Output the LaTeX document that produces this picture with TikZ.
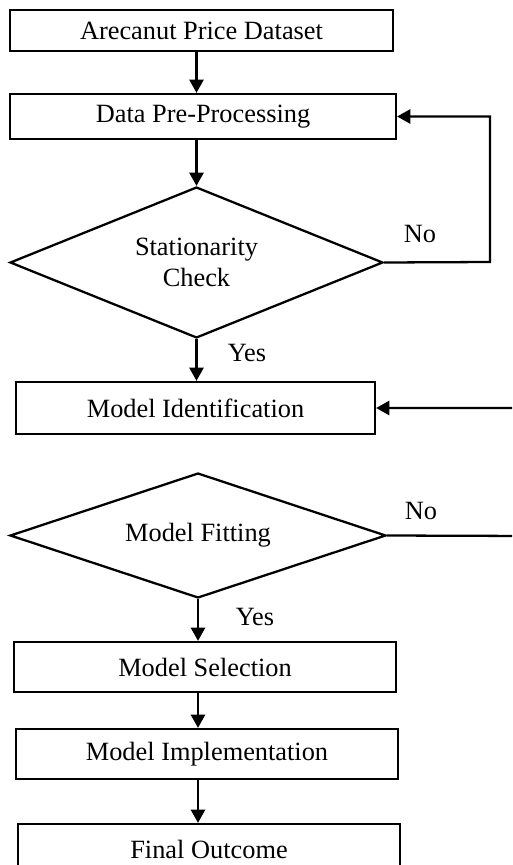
\documentclass[tikz,border=0pt]{standalone}
\usepackage{fontspec}
\setmainfont{Liberation Serif}
\usetikzlibrary{arrows.meta,shapes.geometric,calc}

\begin{document}
\begin{tikzpicture}[
  x=0.02cm, y=-0.02cm,
  font=\fontsize{15}{17.5}\selectfont,
  box/.style={draw, line width=1.3pt, align=center, inner sep=2pt},
  decision/.style={draw, diamond, line width=1.3pt, align=center, inner sep=0pt},
  arr/.style={-{Triangle[length=7.5pt,width=8pt]}, line width=1.3pt},
  lbl/.style={inner sep=1pt}
]
  \clip (0,0) rectangle (512,865);
  % main column
  \node[box, minimum width=7.66cm, minimum height=0.82cm] (data) at (201.5,30.5) {Arecanut Price Dataset};
  \node[box, minimum width=7.72cm, minimum height=0.9cm] (pre) at (203,116.5) {Data Pre-Processing};
  \node[decision, aspect=2.47, minimum width=7.46cm, minimum height=3.02cm] (stat) at (196.5,262.5) {Stationarity\\Check};
  \node[box, minimum width=7.18cm, minimum height=1.04cm] (ident) at (195.5,408) {Model Identification};
  \node[decision, aspect=3, minimum width=7.52cm, minimum height=2.5cm] (fit) at (198,535.5) {Model Fitting};
  \node[box, minimum width=7.64cm, minimum height=1.0cm] (sel) at (205,667) {Model Selection};
  \node[box, minimum width=7.64cm, minimum height=1.0cm] (impl) at (207,754) {Model Implementation};
  \node[box, minimum width=7.64cm, minimum height=1.0cm] (final) at (209,849) {Final Outcome};
  \draw[arr] (data.south -| stat.north) -- (pre.north -| stat.north);
  \draw[arr] (pre.south -| stat.north) -- (stat.north);
  \draw[arr] (stat.south) -- (stat.south |- ident.north);
  \draw[arr] (fit.south) -- (fit.south |- sel.north);
  \draw[arr] (sel.south -| fit.south) -- (impl.north -| fit.south);
  \draw[arr] (impl.south -| fit.south) -- (final.north -| fit.south);
  % feedback loops
  \coordinate (loopA) at (490,262);
  \coordinate (loopB) at (530,536);
  \draw[arr] (stat.east) -- (loopA) |- (pre.east);
  \draw[arr] (fit.east) -- (loopB) |- (ident.east);
  % branch labels
  \node[lbl] (noA) at (420,234) {No};
  \node[lbl] (yesA) at (247,353) {Yes};
  \node[lbl] (noB) at (421,511) {No};
  \node[lbl] (yesB) at (255,617) {Yes};
\end{tikzpicture}
\end{document}
